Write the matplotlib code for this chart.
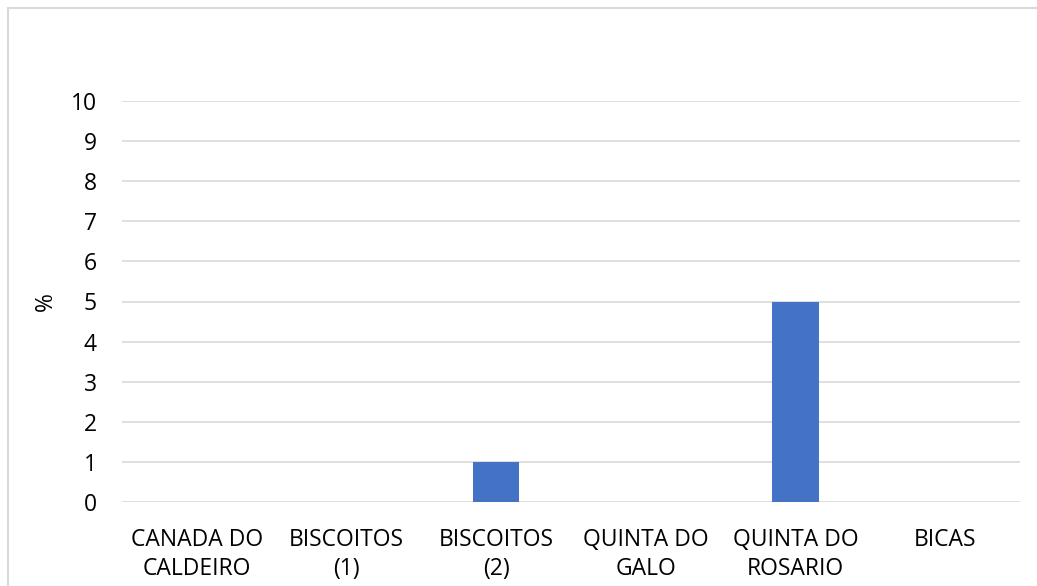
import numpy as np
import matplotlib.pyplot as plt
from matplotlib.patches import Rectangle

locais = ['CANADA DO\nCALDEIRO', 'BISCOITOS\n(1)', 'BISCOITOS\n(2)',
          'QUINTA DO\nGALO', 'QUINTA DO\nROSARIO', 'BICAS']
valores = [0, 0, 1, 0, 5, 0]
y_ticks = list(range(0, 11))

plt.rcParams['font.family'] = ['Open Sans', 'DejaVu Sans']

fig = plt.figure(figsize=(10.37, 5.86), dpi=100)
ax = fig.add_axes([122 / 1037, 1 - 502 / 586, (1020 - 122) / 1037, (502 - 101) / 586])

x = np.arange(len(locais))
ax.bar(x, valores, width=0.31, color='#4472C4', zorder=3)

ax.set_xlim(-0.5, len(locais) - 0.5)
ax.set_ylim(0, 10)
ax.set_yticks(y_ticks)
ax.set_xticks(x)
ax.set_xticklabels(locais, fontsize=16.5, color='#000000', linespacing=1.25)
ax.tick_params(axis='y', labelsize=16.5, length=0, pad=18)
ax.tick_params(axis='x', length=0, pad=19)
ax.grid(axis='y', color='#d9d9d9', linewidth=1.2, zorder=0)
for s in ax.spines.values():
    s.set_visible(False)
ax.set_ylabel('%', fontsize=16.5)
ax.yaxis.set_label_coords(-64 / 898, 0.5)

# borda do gráfico
fig.patches.append(Rectangle((8 / 1037, -0.1), 1.2, 1 - 8 / 586 + 0.1,
                             transform=fig.transFigure, fill=False,
                             edgecolor='#d9d9d9', linewidth=1.5))

fig.savefig('out.png', dpi=100)
